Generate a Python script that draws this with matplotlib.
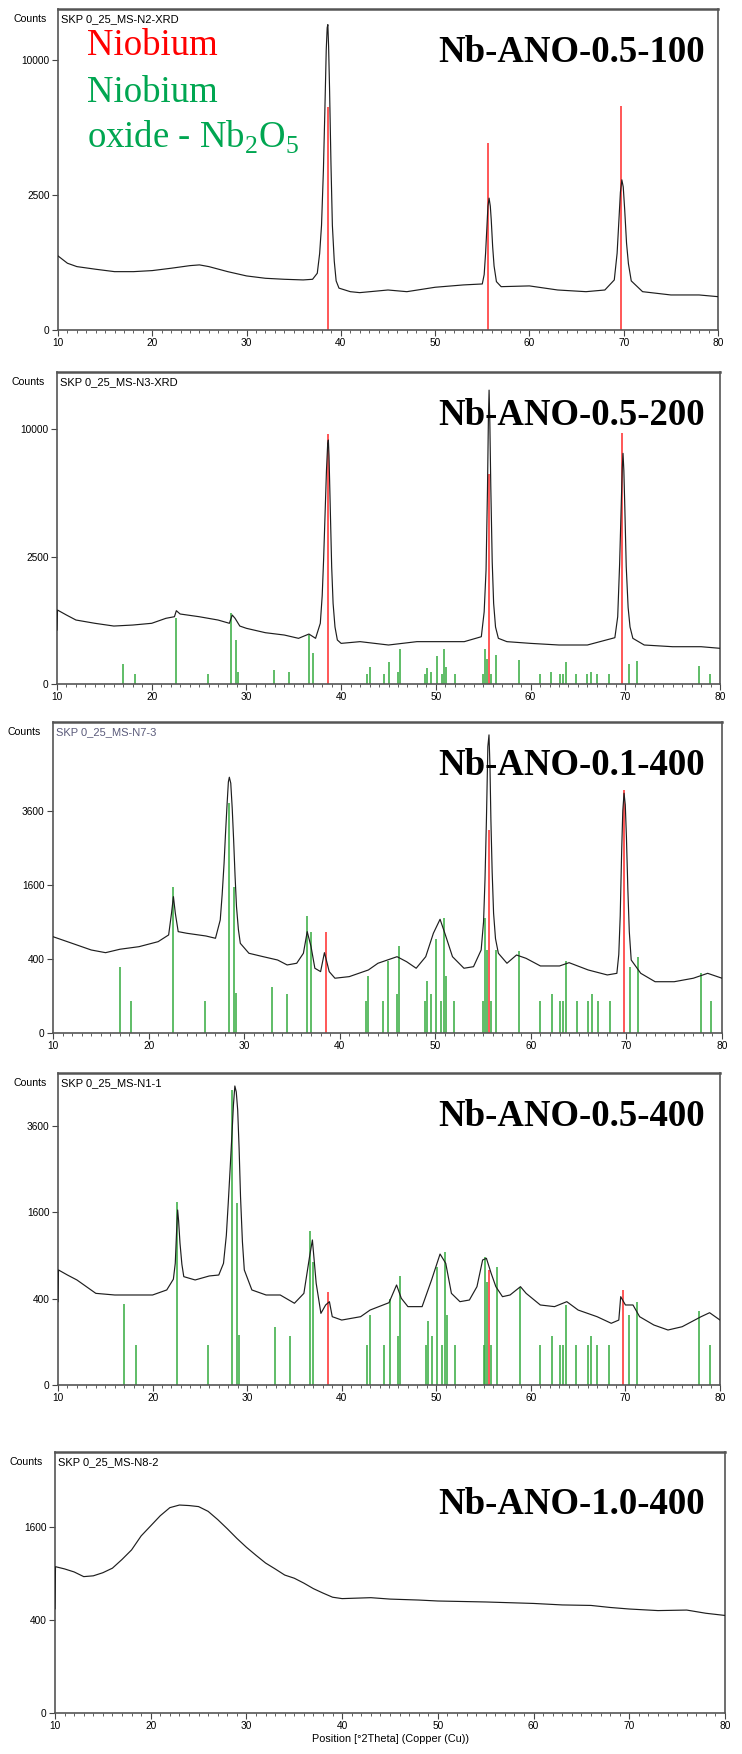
import numpy as np
import matplotlib
matplotlib.use("Agg")
import matplotlib.pyplot as plt
from matplotlib.ticker import FixedLocator, MultipleLocator

# ---- XRD patterns: 2theta (deg) and counts ----
p1_tt = [10, 11, 12, 14, 16, 18, 20, 22, 24, 25, 26, 28, 30, 32, 34, 36, 37, 37.5, 37.75, 37.95,
         38.15, 38.3, 38.45, 38.55, 38.62, 38.7, 38.8, 38.95, 39.1, 39.3, 39.5, 39.8, 41, 42, 45,
         47, 50, 53, 55, 55.2, 55.35, 55.5, 55.6, 55.72, 55.85, 55.95, 56.1, 56.25, 56.5, 57, 60,
         63, 66, 68, 69, 69.3, 69.5, 69.65, 69.8, 69.95, 70.1, 70.3, 70.5, 70.8, 72, 75, 78, 80]
p1_ct = [751, 610, 550, 505, 466, 466, 483, 522, 567, 580, 550, 466, 400, 366, 352, 343, 352, 441, 800, 1500,
         3500, 6500, 10750, 12500, 12760, 11000, 8000, 3800, 1500, 650, 330, 240, 201, 191, 219,
         201, 250, 278, 290, 420, 807, 1500, 2100, 2380, 2100, 1660, 950, 560, 320, 257, 266,
         219, 201, 219, 343, 807, 1700, 2600, 3086, 2800, 2000, 1031, 600, 330, 201, 168, 168, 152]

p2_tt = [10, 10.05, 11, 12, 14, 16, 18, 20, 21.5, 22.4, 22.6, 23, 25, 27, 28.2, 28.5, 28.8, 29.3, 30,
         32, 34, 35.5, 36.6, 37.3, 37.8, 38.0, 38.15, 38.3, 38.45, 38.58, 38.65, 38.72, 38.85, 39.0,
         39.15, 39.35, 39.6, 40, 42, 45, 48, 50, 53, 54.8, 55.1, 55.3, 55.45, 55.55, 55.62, 55.7,
         55.8, 55.95, 56.1, 56.3, 56.6, 57.5, 60, 63, 66, 68.9, 69.2, 69.4, 69.55, 69.68, 69.76,
         69.85, 69.95, 70.1, 70.3, 70.5, 70.8, 72, 75, 78, 80]
p2_ct = [448, 842, 732, 630, 567, 517, 535, 567, 664, 697, 827, 754, 697, 630, 567, 732, 664, 517, 477,
         405, 369, 321, 384, 321, 567, 1200, 2400, 4400, 7000, 8900, 9160, 8000, 4800, 2118,
         1000, 500, 298, 254, 276, 234, 276, 276, 276, 344, 800, 2000, 5790, 11000, 13290, 10500,
         6000, 2300, 1000, 500, 321, 276, 254, 234, 234, 330, 697, 2200, 4500, 7200, 8186,
         7000, 4800, 2118, 900, 500, 321, 234, 214, 214, 196]

p3_tt = [10, 12, 14, 15.5, 17, 19, 21, 22.1, 22.4, 22.6, 22.8, 23.1, 24, 26, 27, 27.5, 27.7, 27.9, 28.05,
         28.2, 28.35, 28.45, 28.6, 28.75, 28.9, 29.05, 29.2, 29.4, 29.6, 30.5, 32, 33.5, 34.5, 35.5,
         36.2, 36.6, 37.0, 37.4, 38.0, 38.4, 38.6, 38.9, 39.5, 41, 43, 44, 46, 47, 48, 49, 49.8,
         50.5, 51, 51.8, 53, 54, 54.8, 55.05, 55.2, 55.35, 55.5, 55.62, 55.72, 55.82, 55.95, 56.1,
         56.3, 56.6, 57.5, 58.5, 59.5, 61, 63, 64, 66, 68, 69, 69.2, 69.35, 69.5, 69.62, 69.75,
         69.88, 70.0, 70.15, 70.3, 70.5, 71.5, 73, 75, 77, 78.5, 80]
p3_ct = [677, 587, 503, 471, 512, 544, 609, 702, 1046, 1357, 1046, 750, 726, 687, 655, 933, 1400, 2103, 2900,
         3741, 4600, 4775, 4554, 3700, 2721, 1800, 1165, 780, 587, 464, 425, 389, 338, 355,
         464, 750, 544, 306, 275, 471, 389, 275, 219, 232, 290, 355, 425, 371, 306, 425, 726,
         944, 726, 425, 306, 321, 503, 900, 1710, 3300, 5988, 6487, 5200, 3300, 1900, 1046,
         650, 464, 355, 444, 407, 328, 328, 361, 290, 246, 260, 450, 1000, 2400, 3600, 4197,
         3800, 2800, 1500, 750, 389, 260, 192, 192, 219, 260, 219]

p4_tt = [10, 10.05, 11, 12, 14, 16, 18, 20, 21.5, 22.2, 22.4, 22.55, 22.65, 22.75, 22.9, 23.1, 23.3,
         24.5, 26, 27, 27.5, 27.8, 28.0, 28.2, 28.4, 28.55, 28.7, 28.85, 29.0, 29.15, 29.3, 29.5,
         29.7, 30.5, 32, 33.5, 35, 36, 36.6, 36.9, 37.3, 37.8, 38.3, 38.7, 39.0, 40, 42, 43, 45,
         45.8, 46.3, 47, 48.5, 49.5, 50.4, 51, 51.6, 52.5, 53.5, 54.3, 54.9, 55.3, 55.8, 56.3, 57,
         57.8, 58.9, 59.5, 61, 62.5, 63.8, 65, 67, 68.5, 69.3, 69.5, 70, 70.8, 71.5, 73, 74.5, 76,
         78, 78.9, 80]
p4_ct = [372, 709, 648, 591, 450, 434, 434, 434, 484, 600, 793, 1300, 1641, 1450, 1076, 780, 629,
         591, 637, 648, 793, 1200, 1768, 2500, 3394, 4200, 4790, 4600, 4052, 3000, 1900, 1100,
         709, 484, 434, 434, 358, 450, 882, 1127, 554, 275, 343, 372, 250, 226, 250, 301, 363,
         536, 403, 329, 329, 591, 919, 793, 450, 372, 387, 518, 837, 860, 669, 518, 418,
         434, 518, 450, 343, 329, 372, 301, 250, 204, 226, 418, 343, 343, 250, 193, 162, 182,
         250, 280, 226]

p5_tt = [10, 10.05, 11, 12, 13, 14, 15, 16, 17, 18, 19, 20, 21, 22, 23, 24, 25, 26, 27, 28, 29, 30,
         31, 32, 33, 34, 35, 36, 37, 38, 39, 40, 43, 45, 48, 50, 55, 60, 63, 66, 68, 70, 73, 76,
         78, 80]
p5_ct = [502, 990, 960, 920, 860, 870, 910, 970, 1090, 1230, 1450, 1620, 1800, 1950, 2000, 1990, 1970,
         1880, 1730, 1570, 1410, 1270, 1150, 1040, 960, 880, 840, 780, 715, 665, 620, 605, 615, 600,
         590, 580, 570, 555, 540, 535, 515, 500, 485, 490, 460, 440]

# reference patterns: Niobium (red) and Nb2O5 (green)
nb_pos = [38.6, 55.6, 69.7]
nb_h1 = [6820, 4800, 6890]
nb_h2 = [9610, 6760, 9690]
nb_h3 = [745, 3010, 4310]
nb_h4 = [460, 708, 483]

ox_pos = [17.0, 18.2, 22.6, 25.9, 28.4, 28.9, 29.1, 32.9, 34.5, 36.6, 37.0, 42.7, 43.0, 44.5, 45.1,
          46.0, 46.2, 48.9, 49.1, 49.5, 50.1, 50.6, 50.9, 51.1, 52.0, 55.0, 55.2, 55.4, 55.8, 56.4,
          58.8, 61.0, 62.2, 63.1, 63.4, 63.7, 64.8, 66.0, 66.4, 67.0, 68.3, 70.4, 71.2, 77.8, 78.9]
ox_h2 = [59, 15, 663, 15, 768, 298, 21, 30, 21, 369, 145, 15, 46, 15, 72,
         23, 185, 15, 38, 23, 123, 15, 185, 46, 15, 15, 185, 94, 15, 130,
         88, 15, 23, 15, 15, 72, 15, 15, 23, 15, 15, 61, 84, 50, 15]
ox_h3 = [315, 76, 1560, 76, 3850, 1560, 115, 152, 113, 1005, 740, 76, 237, 76, 380,
         113, 557, 76, 195, 113, 645, 76, 960, 240, 76, 76, 960, 503, 76, 500,
         495, 76, 111, 76, 76, 382, 76, 76, 111, 76, 76, 315, 418, 260, 76]
ox_h4 = [352, 84, 1795, 84, 4660, 1775, 134, 178, 129, 1270, 810, 84, 262, 84, 393,
         129, 636, 84, 222, 129, 742, 84, 952, 262, 84, 84, 872, 565, 84, 742,
         518, 84, 129, 84, 84, 343, 84, 84, 129, 84, 84, 262, 372, 296, 84]

sample_names = ["Nb-ANO-0.5-100", "Nb-ANO-0.5-200", "Nb-ANO-0.1-400", "Nb-ANO-0.5-400", "Nb-ANO-1.0-400"]
scan_names = ["SKP 0_25_MS-N2-XRD", "SKP 0_25_MS-N3-XRD", "SKP 0_25_MS-N7-3",
              "SKP 0_25_MS-N1-1", "SKP 0_25_MS-N8-2"]
y_ticks = [[0, 2500, 10000], [0, 2500, 10000], [0, 400, 1600, 3600], [0, 400, 1600, 3600], [0, 400, 1600]]
y_tops = [14100, 14980, 7060, 5215, 3150]

profiles = [(p1_tt, p1_ct), (p2_tt, p2_ct), (p3_tt, p3_ct), (p4_tt, p4_ct), (p5_tt, p5_ct)]
nb_heights = [nb_h1, nb_h2, nb_h3, nb_h4, None]
ox_heights = [None, ox_h2, ox_h3, ox_h4, None]

W, H = 742, 1754
fig = plt.figure(figsize=(W / 100, H / 100), dpi=100)

# panel boxes in pixels: left, right, top, bottom
boxes = [(58, 718, 9, 330), (57, 720, 372, 684), (53, 722, 722, 1033),
         (58, 720, 1073, 1385), (55, 725, 1452, 1713)]
label_drop = [53, 53, 53, 53, 62]


def fx(x):
    return x / W


def fy(y):
    return 1 - y / H


def fwd(v):
    return np.sqrt(np.clip(v, 0, None))


def inv(v):
    return np.square(v)


red = "#ff3b3b"
green = "#34ab3f"

for i, (l, r, t, b) in enumerate(boxes):
    ax = fig.add_axes([fx(l), fy(b), (r - l) / W, (b - t) / H])
    ax.set_yscale("function", functions=(fwd, inv))
    tt, ct = profiles[i]
    if ox_heights[i] is not None:
        ax.vlines(ox_pos, 0, ox_heights[i], color=green, lw=1.1, zorder=2)
    if nb_heights[i] is not None:
        ax.vlines(nb_pos, 0, nb_heights[i], color=red, lw=1.2, zorder=2)
    ax.plot(tt, ct, color="#1e1e1e", lw=0.85, zorder=3)
    ax.set_xlim(10, 80)
    ax.set_ylim(0, y_tops[i])
    ax.yaxis.set_major_locator(FixedLocator(y_ticks[i]))
    ax.yaxis.set_minor_locator(FixedLocator([]))
    ax.set_yticklabels([str(v) for v in y_ticks[i]])
    ax.xaxis.set_major_locator(MultipleLocator(10))
    ax.xaxis.set_minor_locator(MultipleLocator(1))
    ax.tick_params(axis="both", which="major", direction="out", length=4, width=0.8,
                   color="#444444", labelsize=7.3, pad=2)
    ax.tick_params(axis="x", which="minor", direction="out", length=2, width=0.6, color="#444444")
    for lab in ax.get_xticklabels() + ax.get_yticklabels():
        lab.set_fontfamily("Liberation Sans")
    for sp in ax.spines.values():
        sp.set_color("#555555")
        sp.set_linewidth(1.2)
    ax.spines["top"].set_linewidth(1.8)

    # small header texts
    fig.text(fx(l - 45), fy(t + 10), "Counts", fontsize=7.6, family="Liberation Sans",
             va="center", ha="left")
    fig.text(fx(l + 3), fy(t + 10), scan_names[i], fontsize=8, family="Liberation Sans",
             va="center", ha="left", color="#5a5a7a" if i == 2 else "black")
    # sample label
    fig.text(fx(705), fy(t + label_drop[i]), sample_names[i], fontsize=26.5,
             family="Liberation Serif", weight="bold", ha="right", va="baseline")

    if i == 4:
        ax.set_xlabel("Position [°2Theta] (Copper (Cu))", fontsize=7.8, family="Liberation Sans",
                      labelpad=2)

# legend text
fig.text(fx(87), fy(55), "Niobium", fontsize=26.5, family="Liberation Serif", color="#ff0000",
         va="baseline")
fig.text(fx(87), fy(102), "Niobium", fontsize=26.5, family="Liberation Serif", color="#00a651",
         va="baseline")
fig.text(fx(87), fy(148), r"oxide - Nb$_\mathregular{2}$O$_\mathregular{5}$", fontsize=26.5,
         family="Liberation Serif", color="#00a651", va="baseline")

fig.savefig("out.png", dpi=100)
